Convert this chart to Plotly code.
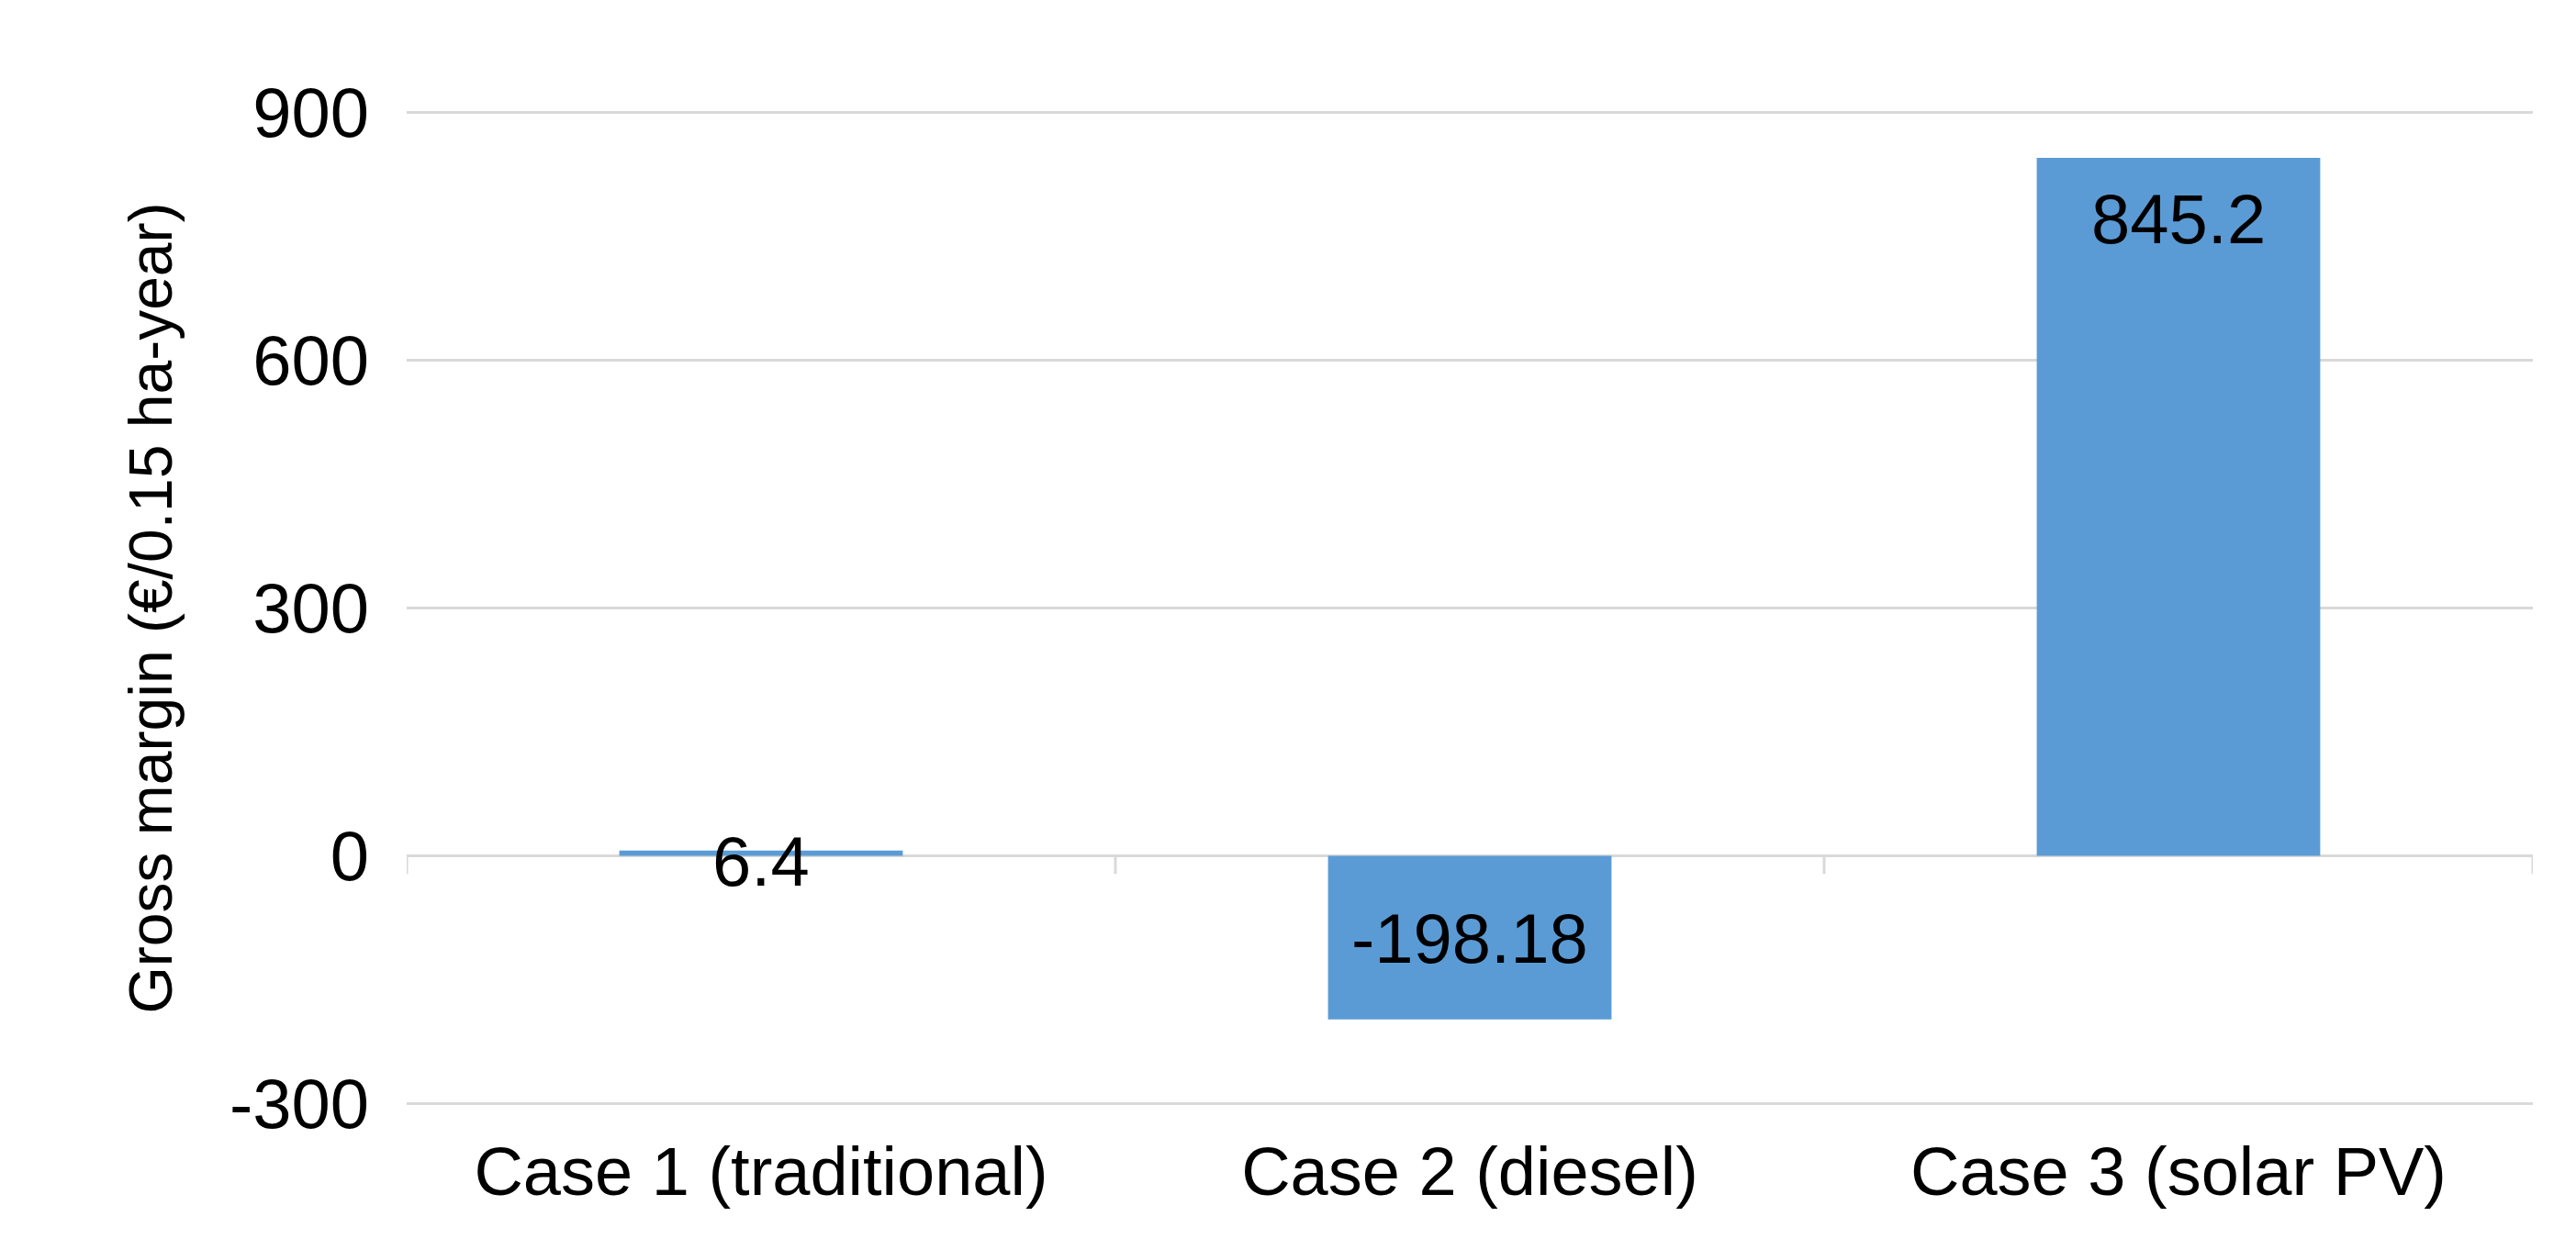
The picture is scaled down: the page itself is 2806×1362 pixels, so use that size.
import plotly.graph_objects as go

categories = ["Case 1 (traditional)", "Case 2 (diesel)", "Case 3 (solar PV)"]
values = [6.4, -198.18, 845.2]
labels = ["6.4", "-198.18", "845.2"]
y_ticks = [-300, 0, 300, 600, 900]
y_tick_text = ["-300", "0", "300", "600", "900"]

# label placement (style, not data)
label_anchor = ["middle", "middle", "middle"]
label_shift = [-12, 88, -66]

fig = go.Figure(go.Bar(x=categories, y=values, width=0.4,
                       marker=dict(color="#5B9BD5", line=dict(width=0))))

for c, v, t, a, s in zip(categories, values, labels, label_anchor, label_shift):
    fig.add_annotation(x=c, y=v, text=t, showarrow=False,
                       yanchor=a, yshift=s,
                       font=dict(size=76, color="#000000", family="Liberation Sans, Arial"))

for xb in [-0.5, 0.5, 1.5, 2.5]:
    fig.add_shape(type="line", xref="x", yref="y", x0=xb, x1=xb, y0=0, y1=-22,
                  line=dict(color="#D9D9D9", width=3))

fig.update_layout(
    width=2806, height=1362,
    margin=dict(l=435, r=55, t=112, b=165),
    plot_bgcolor="white", paper_bgcolor="white",
    showlegend=False,
    font=dict(family="Liberation Sans, Arial", color="#000000"),
    yaxis=dict(range=[-303, 903], tickvals=y_ticks, ticktext=y_tick_text, showgrid=True,
               gridcolor="#D9D9D9", gridwidth=3, zeroline=True,
               zerolinecolor="#D9D9D9", zerolinewidth=3,
               tickfont=dict(size=76), ticks="", ticklabelstandoff=40,
               title=dict(text="Gross margin (€/0.15 ha-year)", font=dict(size=66), standoff=40)),
    xaxis=dict(tickfont=dict(size=74), showgrid=False, showline=False,
               range=[-0.5, 2.5], ticks="", ticklabelstandoff=22),
)

fig.write_html("out.html")
